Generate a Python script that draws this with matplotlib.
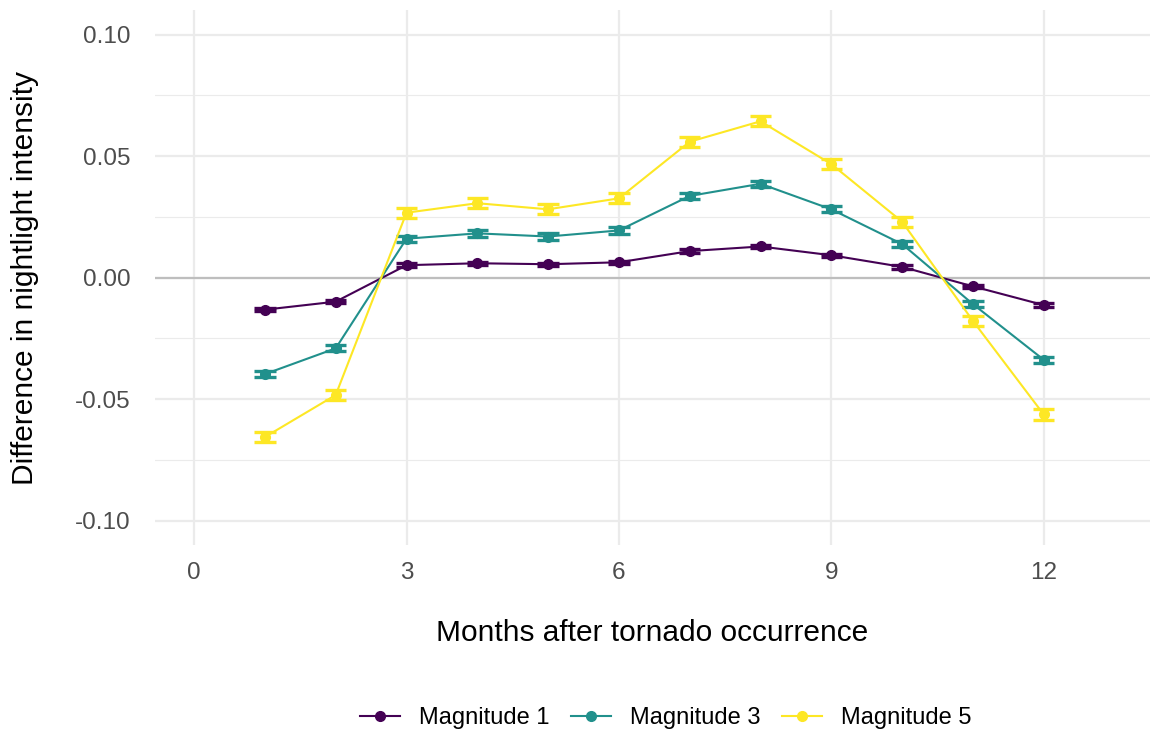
import numpy as np
import matplotlib.pyplot as plt

months = [1, 2, 3, 4, 5, 6, 7, 8, 9, 10, 11, 12]

# mean difference in nightlight intensity by tornado magnitude
mag1 = [-0.0132, -0.0099, 0.0051, 0.0059, 0.0055, 0.0063, 0.0109, 0.0128, 0.0092, 0.0044, -0.0036, -0.0113]
mag3 = [-0.0397, -0.0291, 0.0160, 0.0182, 0.0169, 0.0194, 0.0336, 0.0386, 0.0281, 0.0138, -0.0109, -0.0338]
mag5 = [-0.0656, -0.0483, 0.0267, 0.0306, 0.0281, 0.0326, 0.0559, 0.0643, 0.0467, 0.0230, -0.0178, -0.0563]

# standard errors
se1 = [0.0007] * 12
se3 = [0.0013] * 12
se5 = [0.0021] * 12

labels = ["Magnitude 1", "Magnitude 3", "Magnitude 5"]
colors = ["#440154", "#21908C", "#FDE725"]

plt.rcParams["font.family"] = ["Liberation Sans", "DejaVu Sans"]

fig = plt.figure(figsize=(11.58, 7.31), dpi=100)
ax = fig.add_axes([0.134, 0.2545, 0.859, 0.7315])

ax.axhline(0, color="#BEBEBE", lw=1.6, zorder=1)

for y, se, lab, c in zip([mag1, mag3, mag5], [se1, se3, se5], labels, colors):
    x = np.array(months)
    lo = np.array(y) - np.array(se)
    hi = np.array(y) + np.array(se)
    ax.vlines(x, lo, hi, color=c, lw=2.2, zorder=2)
    # flat caps drawn as short horizontal segments
    ax.hlines(lo, x - 0.15, x + 0.15, color=c, lw=2.4, zorder=2)
    ax.hlines(hi, x - 0.15, x + 0.15, color=c, lw=2.4, zorder=2)
    ax.plot(months, y, color=c, lw=1.5, marker="o", ms=7, label=lab, zorder=3)

ax.set_xlim(-0.55, 13.5)
ax.set_ylim(-0.11, 0.11)
ax.set_xticks([0, 3, 6, 9, 12])
ax.set_yticks([-0.10, -0.05, 0.00, 0.05, 0.10])
ax.set_yticklabels(["-0.10", "-0.05", "0.00", "0.05", "0.10"])
ax.set_yticks([-0.075, -0.025, 0.025, 0.075], minor=True)

ax.grid(which="major", color="#EBEBEB", lw=1.6)
ax.grid(which="minor", axis="y", color="#EBEBEB", lw=0.8)
ax.set_axisbelow(True)
for s in ax.spines.values():
    s.set_visible(False)
ax.tick_params(which="both", length=0, labelsize=17.5, labelcolor="#4D4D4D")
ax.tick_params(axis="y", pad=18)
ax.tick_params(axis="x", pad=12)

ax.set_xlabel("Months after tornado occurrence", fontsize=21.5, va="center")
ax.xaxis.set_label_coords(0.5, -0.1645)
ax.set_ylabel("Difference in nightlight intensity", fontsize=21.5, va="center")
ax.yaxis.set_label_coords(-0.1307, 0.5)

fig.legend(loc="center", bbox_to_anchor=(0.575, 0.018), ncol=3, frameon=False,
           fontsize=17, handlelength=1.7, columnspacing=0.9, handletextpad=0.8)

fig.savefig("out.png", dpi=100)
